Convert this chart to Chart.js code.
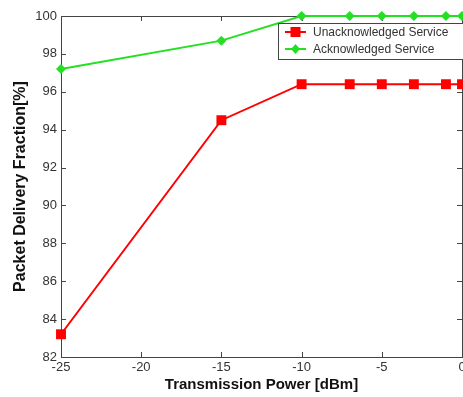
<!DOCTYPE html>
<html>
<head>
<meta charset="utf-8">
<script src="https://cdn.jsdelivr.net/npm/chart.js@4/dist/chart.umd.min.js"></script>
<style>
  html, body { margin: 0; padding: 0; background: #fff; overflow: hidden; }
</style>
</head>
<body>
<canvas id="myChart" width="469" height="397"></canvas>
<script>
// data
const powerLevels = [-25, -15, -10, -7, -5, -3, -1, 0];
const unackValues = [83.2, 94.5, 96.4, 96.4, 96.4, 96.4, 96.4, 96.4];
const ackValues = [97.2, 98.7, 100, 100, 100, 100, 100, 100];
const seriesNames = ['Unacknowledged Service', 'Acknowledged Service'];
const xTicks = [-25, -20, -15, -10, -5, 0];
const yTicks = [82, 84, 86, 88, 90, 92, 94, 96, 98, 100];

const tickFont = { family: "'Liberation Sans', Arial", size: 13 };
const xTitleFont = { family: "'Liberation Sans', Arial", size: 15, weight: 'bold' };
const yTitleFont = { family: "'Liberation Sans', Arial", size: 16, weight: 'bold' };

const toPoints = vals => vals.map((v, i) => ({ x: powerLevels[i], y: v }));

// axes box with inward tick marks, like the matlab figure
const boxPlugin = {
  id: 'box',
  beforeDatasetsDraw(chart) {
    const ctx = chart.ctx, a = chart.chartArea;
    const xs = chart.scales.x, ys = chart.scales.y;
    ctx.save();
    ctx.strokeStyle = '#444';
    ctx.lineWidth = 1;
    ctx.strokeRect(a.left + 0.5, a.top + 0.5, a.right - a.left, a.bottom - a.top);
    ctx.beginPath();
    xTicks.forEach(v => {
      const px = Math.round(xs.getPixelForValue(v)) + 0.5;
      ctx.moveTo(px, a.bottom); ctx.lineTo(px, a.bottom - 5);
      ctx.moveTo(px, a.top); ctx.lineTo(px, a.top + 5);
    });
    yTicks.forEach(v => {
      const py = Math.round(ys.getPixelForValue(v)) + 0.5;
      ctx.moveTo(a.left, py); ctx.lineTo(a.left + 5, py);
      ctx.moveTo(a.right, py); ctx.lineTo(a.right - 5, py);
    });
    ctx.stroke();
    ctx.restore();
  }
};

function marker(ctx, style, x, y, color) {
  ctx.fillStyle = color;
  ctx.beginPath();
  if (style === 'rect') {
    ctx.rect(x - 5, y - 5, 10, 10);
  } else {
    ctx.moveTo(x, y - 5); ctx.lineTo(x + 4.5, y); ctx.lineTo(x, y + 5); ctx.lineTo(x - 4.5, y);
    ctx.closePath();
  }
  ctx.fill();
}

const legendPlugin = {
  id: 'boxLegend',
  afterDraw(chart) {
    const ctx = chart.ctx, a = chart.chartArea;
    const left = a.right - 184, top = a.top + 7;
    ctx.save();
    ctx.fillStyle = '#fff';
    ctx.fillRect(left, top, 190, 36);
    ctx.strokeStyle = '#444';
    ctx.lineWidth = 1;
    ctx.strokeRect(left + 0.5, top + 0.5, 190, 36);
    chart.data.datasets.forEach((ds, i) => {
      const y = top + 9 + i * 17;
      ctx.strokeStyle = ds.borderColor;
      ctx.lineWidth = 2;
      ctx.beginPath();
      ctx.moveTo(left + 7, y); ctx.lineTo(left + 28, y);
      ctx.stroke();
      marker(ctx, ds.pointStyle, left + 17.5, y, ds.borderColor);
      ctx.fillStyle = '#333';
      ctx.font = "12px 'Liberation Sans', Arial";
      ctx.textBaseline = 'middle';
      ctx.fillText(ds.label, left + 35, y + 1);
    });
    ctx.restore();
  }
};

new Chart('myChart', {
  type: 'line',
  data: {
    datasets: [{
      label: seriesNames[0],
      data: toPoints(unackValues),
      borderColor: '#ff0000',
      backgroundColor: '#ff0000',
      borderWidth: 2,
      pointStyle: 'rect',
      pointRadius: 7,
      pointBorderWidth: 0,
      clip: false,
      tension: 0
    }, {
      label: seriesNames[1],
      data: toPoints(ackValues),
      borderColor: '#22e022',
      backgroundColor: '#22e022',
      borderWidth: 2,
      pointStyle: 'rectRot',
      pointRadius: 5,
      pointBorderWidth: 0,
      clip: false,
      tension: 0
    }]
  },
  options: {
    responsive: false,
    animation: false,
    devicePixelRatio: 1,
    layout: { padding: { top: 16, right: 0, left: 0, bottom: 3 } },
    plugins: {
      legend: { display: false },
      tooltip: { enabled: false }
    },
    scales: {
      x: {
        type: 'linear',
        min: -25,
        max: 0,
        afterBuildTicks: s => { s.ticks = xTicks.map(v => ({ value: v })); },
        afterFit: s => { s.height = 37; },
        grid: { display: false, drawTicks: false },
        border: { display: false },
        ticks: { font: tickFont, color: '#333', padding: 3, maxRotation: 0 },
        title: { display: true, text: 'Transmission Power [dBm]', font: xTitleFont, color: '#111', padding: 0 }
      },
      y: {
        min: 82,
        max: 100,
        afterBuildTicks: s => { s.ticks = yTicks.map(v => ({ value: v })); },
        afterFit: s => { s.width = 61; },
        grid: { display: false, drawTicks: false },
        border: { display: false },
        ticks: { font: tickFont, color: '#333', padding: 4 },
        title: { display: true, text: 'Packet Delivery Fraction[%]', font: yTitleFont, color: '#111', padding: { top: 11 } }
      }
    }
  },
  plugins: [boxPlugin, legendPlugin]
});
</script>
</body>
</html>
